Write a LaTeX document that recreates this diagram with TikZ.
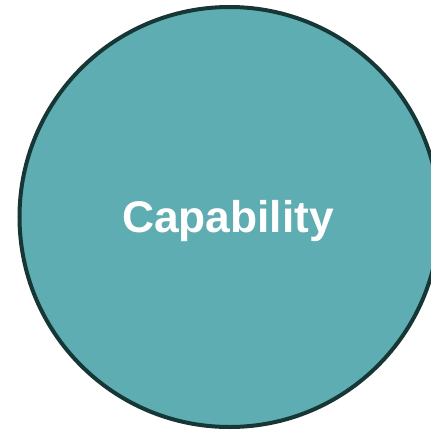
\documentclass[tikz,border=0pt]{standalone}
\usepackage{fontspec}
\setmainfont{Liberation Sans}
\definecolor{capfill}{HTML}{5DADB2}
\definecolor{capline}{HTML}{173636}
\tikzset{capcircle/.style={circle, draw=capline, fill=capfill, line width=4bp, minimum size=420bp, inner sep=0pt},
  caplabel/.style={text=white, font=\fontsize{44.5}{50}\selectfont\bfseries, inner sep=0pt}}
\begin{document}
\begin{tikzpicture}[x=1bp,y=-1bp]
\useasboundingbox (0,0) rectangle (431,432);
\clip (0,0) rectangle (431,432);
\node[capcircle] (c) at (229.5,217) {};
\node[caplabel, anchor=base] (t) at (228,232.5) {Capability};
\end{tikzpicture}
\end{document}
